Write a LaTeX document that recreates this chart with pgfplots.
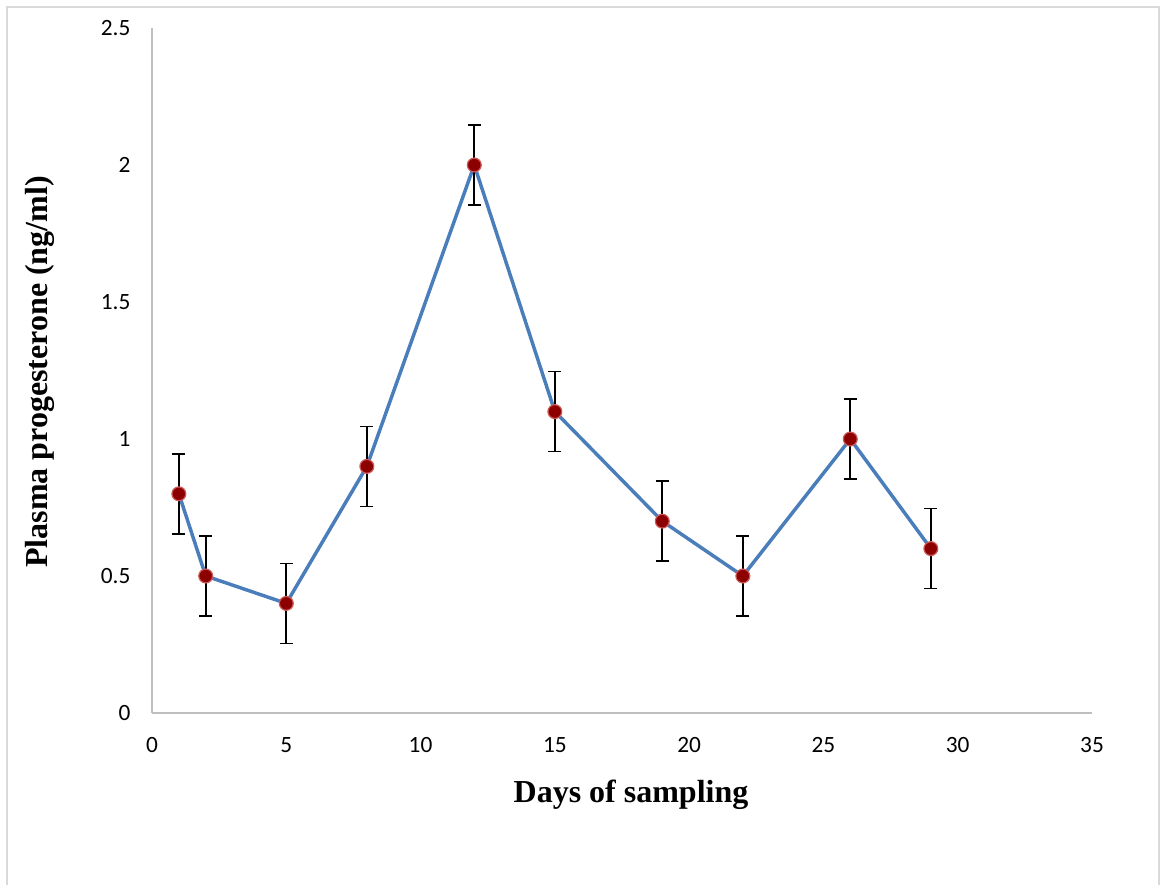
\documentclass[border=0pt]{standalone}
\usepackage{fontspec}
\setmainfont{Liberation Serif}
\newfontfamily\carlito{Carlito}
\usepackage{pgfplots}
\pgfplotsset{compat=1.18}
\definecolor{lineblue}{RGB}{74,126,187}
\definecolor{mkfill}{RGB}{140,0,0}
\definecolor{mkedge}{RGB}{205,90,90}
\definecolor{axgray}{RGB}{191,191,191}
\definecolor{framegray}{RGB}{217,217,217}
\begin{document}
\begin{tikzpicture}[x=0.75pt,y=0.75pt]
\useasboundingbox (0,0) rectangle (1161,885);
\draw[framegray, line width=1.5] (7,-2) -- (7,878) -- (1159,878) -- (1159,-2);
\begin{axis}[
  at={(114pt,129pt)}, anchor=origin,
  scale only axis, width=705pt, height=513.75pt,
  xmin=0, xmax=35, ymin=0, ymax=2.5,
  xtick={0,5,...,35}, ytick={0,0.5,...,2.5},
  axis lines*=left, axis line style={axgray, line width=1.3pt, -},
  major tick length=0pt,
  tick label style={font=\carlito\fontsize{17.5}{17.5}\selectfont, inner sep=0pt},
  /pgf/number format/assume math mode=true,
  /pgf/number format/fixed,
  yticklabel style={xshift=-16pt},
  xticklabel style={yshift=-18pt},
  clip=false,
]
\addplot[lineblue, line width=2.6pt,
  mark=*, mark size=5.2pt, mark options={fill=mkfill, draw=mkedge, line width=0.9pt},
  error bars/.cd, y dir=both, y explicit,
  error bar style={black, line width=1.3pt},
  error mark options={rotate=90, mark size=4.8pt, black, line width=1.3pt}]
  table[x=x, y=y, y error=e] {
x y e
1 0.8 0.146
2 0.5 0.146
5 0.4 0.146
8 0.9 0.146
12 2.0 0.146
15 1.1 0.146
19 0.7 0.146
22 0.5 0.146
26 1.0 0.146
29 0.6 0.146
};
\end{axis}
\node[font=\bfseries\fontsize{24}{24}\selectfont] at (631,90) {Days of sampling};
\node[font=\bfseries\fontsize{24}{24}\selectfont, rotate=90] at (40,513) {Plasma progesterone (ng/ml)};
\end{tikzpicture}
\end{document}
